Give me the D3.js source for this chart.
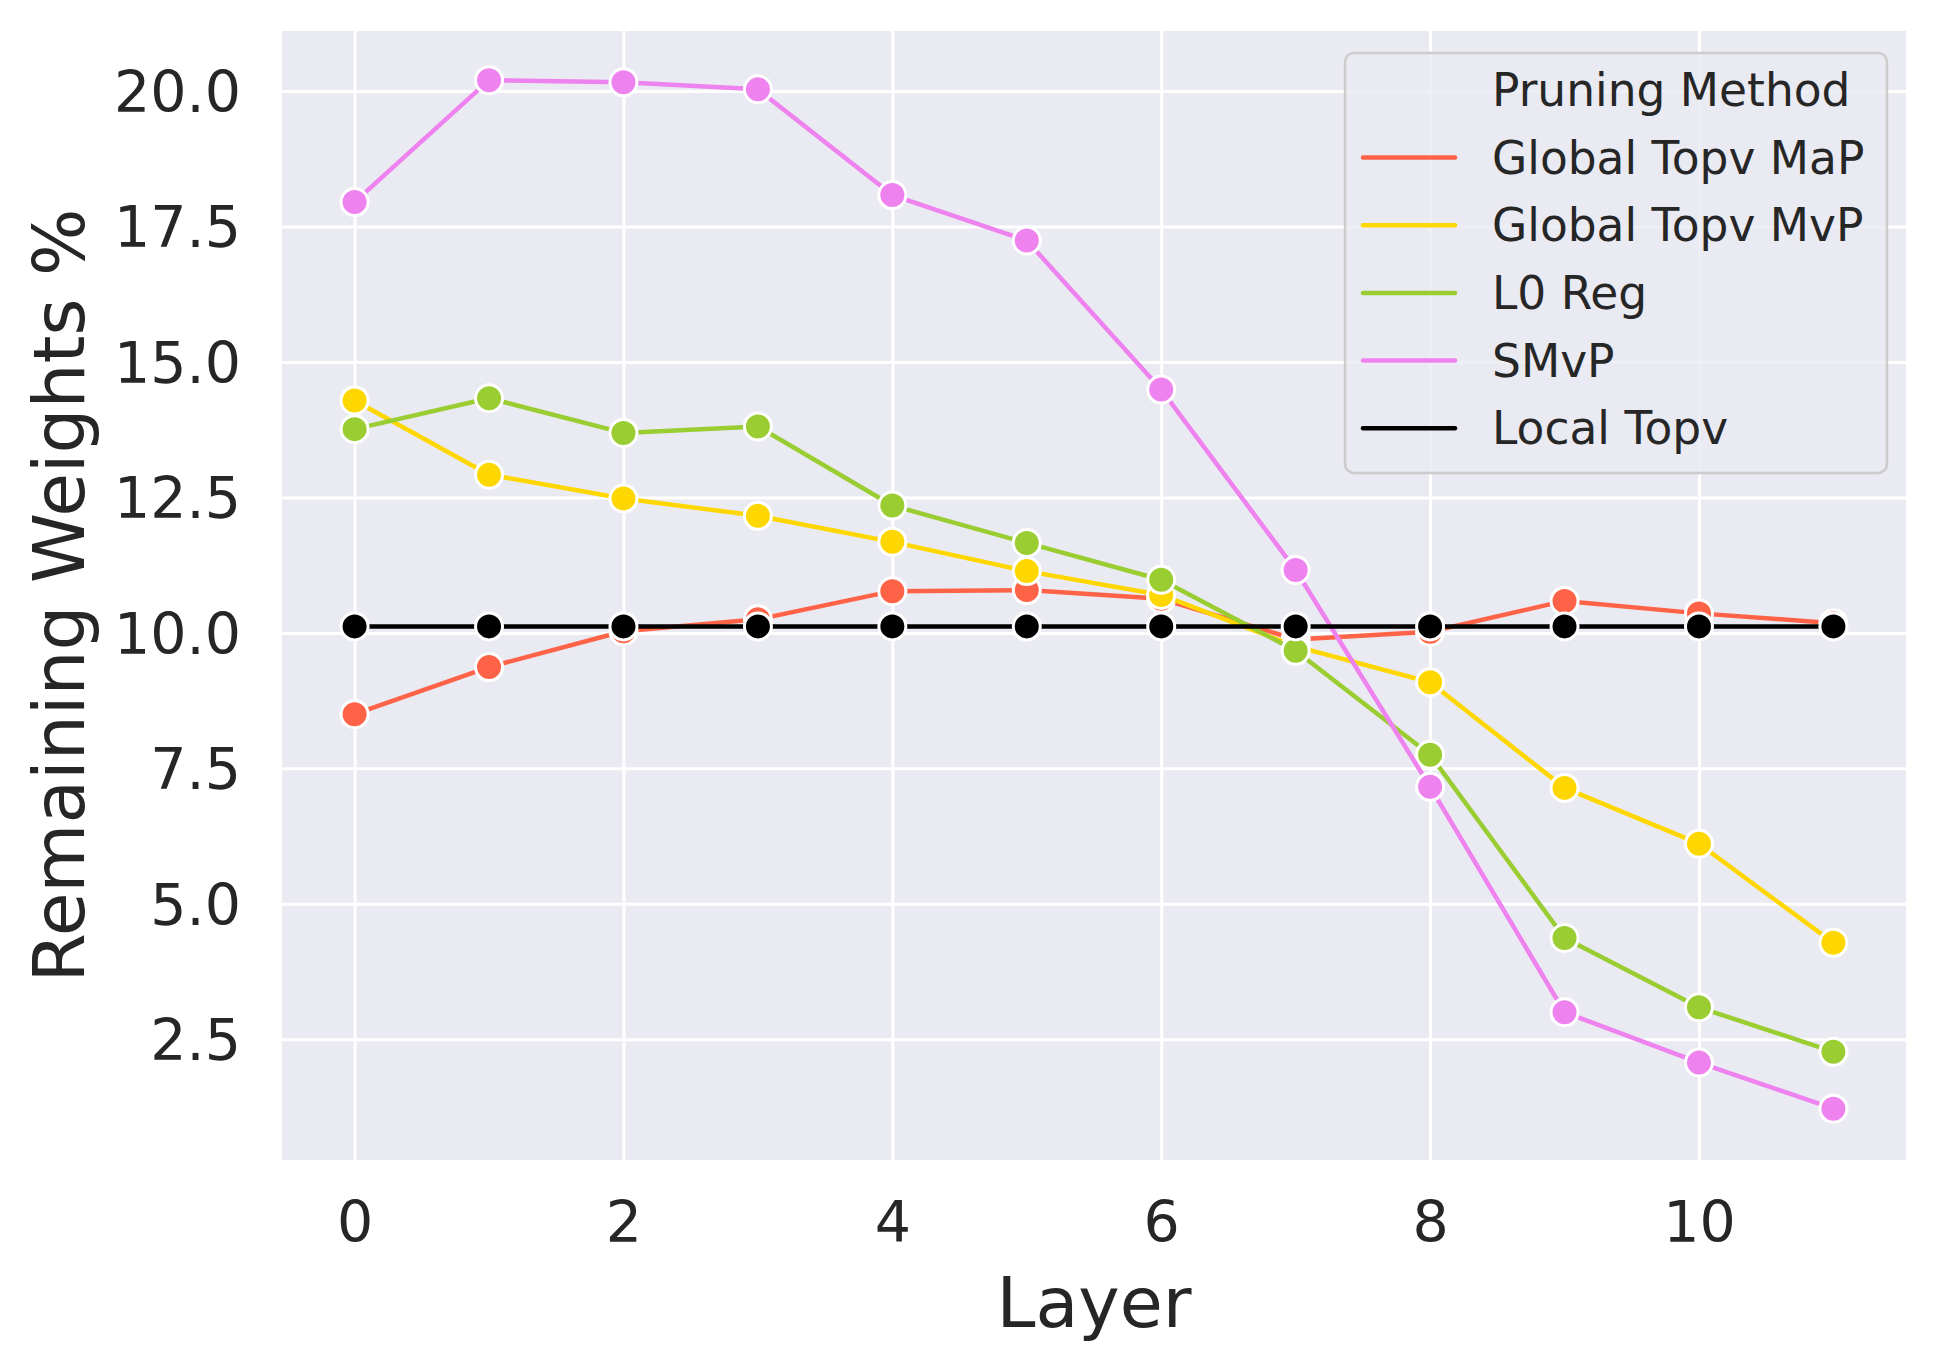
<!DOCTYPE html>
<html>
<head>
<meta charset="utf-8">
<script src="https://cdn.jsdelivr.net/npm/d3@7"></script>
<style>
  body { margin: 0; background: #fff; }
  text { font-family: "DejaVu Sans", sans-serif; fill: #262626; }
</style>
</head>
<body>
<div id="viz"></div>
<script>
// data
var layers = [0, 1, 2, 3, 4, 5, 6, 7, 8, 9, 10, 11];
var globalTopvMaP = [8.50, 9.37, 10.03, 10.25, 10.77, 10.79, 10.63, 9.88, 10.02, 10.59, 10.36, 10.18];
var globalTopvMvP = [14.29, 12.92, 12.48, 12.16, 11.68, 11.14, 10.70, 9.75, 9.09, 7.14, 6.11, 4.28];
var l0Reg = [13.76, 14.33, 13.69, 13.81, 12.35, 11.66, 10.98, 9.67, 7.75, 4.37, 3.09, 2.27];
var smvp = [17.95, 20.20, 20.16, 20.03, 18.08, 17.24, 14.49, 11.16, 7.16, 3.00, 2.07, 1.22];
var localTopv = [10.12, 10.12, 10.12, 10.12, 10.12, 10.12, 10.12, 10.12, 10.12, 10.12, 10.12, 10.12];

var methodNames = ['Global Topv MaP', 'Global Topv MvP', 'L0 Reg', 'SMvP', 'Local Topv'];
var methodColors = ['#ff6347', '#ffd700', '#9acd32', '#ee82ee', '#000000'];
var yTicks = [2.5, 5, 7.5, 10, 12.5, 15, 17.5, 20];
var xTicks = [0, 2, 4, 6, 8, 10];

var seriesList = [globalTopvMaP, globalTopvMvP, l0Reg, smvp, localTopv];

var width = 1937;
var height = 1369;
var plot = {left: 282, right: 1906, top: 31, bottom: 1160};

var svg = d3.select('#viz').append('svg')
  .attr('width', width)
  .attr('height', height);

var xScale = d3.scaleLinear()
  .domain([-0.54, 11.54])
  .range([plot.left, plot.right]);

var yScale = d3.scaleLinear()
  .domain([0.273, 21.107])
  .range([plot.bottom, plot.top]);

// background
svg.append('rect')
  .attr('x', plot.left)
  .attr('y', plot.top)
  .attr('width', plot.right - plot.left)
  .attr('height', plot.bottom - plot.top)
  .attr('fill', '#eaeaf2');

// grid
var xGrid = d3.axisBottom(xScale).tickValues(xTicks)
  .tickSize(-(plot.bottom - plot.top)).tickFormat('');
svg.append('g')
  .attr('transform', 'translate(0,' + plot.bottom + ')')
  .call(xGrid)
  .call(g => g.select('.domain').remove())
  .selectAll('line').attr('stroke', '#fff').attr('stroke-width', 3);

var yGrid = d3.axisLeft(yScale).tickValues(yTicks)
  .tickSize(-(plot.right - plot.left)).tickFormat('');
svg.append('g')
  .attr('transform', 'translate(' + plot.left + ',0)')
  .call(yGrid)
  .call(g => g.select('.domain').remove())
  .selectAll('line').attr('stroke', '#fff').attr('stroke-width', 3);

// tick labels
var xAxis = svg.append('g')
  .attr('transform', 'translate(0,' + plot.bottom + ')')
  .call(d3.axisBottom(xScale).tickValues(xTicks).tickSize(0).tickPadding(0));
xAxis.select('.domain').remove();
xAxis.selectAll('text')
  .attr('y', 82)
  .attr('dy', null)
  .style('font-size', '57px')
  .style('font-family', '"DejaVu Sans", sans-serif')
  .attr('fill', '#262626');

var yAxis = svg.append('g')
  .attr('transform', 'translate(' + plot.left + ',0)')
  .call(d3.axisLeft(yScale).tickValues(yTicks).tickFormat(d3.format('.1f')).tickSize(0).tickPadding(41));
yAxis.select('.domain').remove();
yAxis.selectAll('text')
  .attr('dy', '0.36em')
  .style('font-size', '57px')
  .style('font-family', '"DejaVu Sans", sans-serif')
  .attr('fill', '#262626');

// axis titles
svg.append('text')
  .attr('x', (plot.left + plot.right) / 2)
  .attr('y', 1327)
  .attr('text-anchor', 'middle')
  .style('font-size', '70px')
  .text('Layer');

svg.append('text')
  .attr('transform', 'translate(84,' + ((plot.top + plot.bottom) / 2) + ') rotate(-90)')
  .attr('text-anchor', 'middle')
  .style('font-size', '71px')
  .text('Remaining Weights %');

// lines and markers
var line = d3.line()
  .x(function(d, i) { return xScale(layers[i]); })
  .y(function(d) { return yScale(d); });

seriesList.forEach(function(values, s) {
  var g = svg.append('g').attr('class', 'series');
  g.append('path')
    .datum(values)
    .attr('fill', 'none')
    .attr('stroke', methodColors[s])
    .attr('stroke-width', 4.5)
    .attr('stroke-linejoin', 'round')
    .attr('d', line);
  g.selectAll('circle')
    .data(values)
    .enter().append('circle')
    .attr('cx', function(d, i) { return xScale(layers[i]); })
    .attr('cy', function(d) { return yScale(d); })
    .attr('r', 13.5)
    .attr('fill', methodColors[s])
    .attr('stroke', '#fff')
    .attr('stroke-width', 3);
});

// legend
var legend = svg.append('g');
legend.append('rect')
  .attr('x', 1345)
  .attr('y', 53)
  .attr('width', 542)
  .attr('height', 420)
  .attr('rx', 9)
  .attr('fill', 'rgba(234,234,242,0.8)')
  .attr('stroke', '#cccccc')
  .attr('stroke-width', 2.5);

legend.append('text')
  .attr('x', 1492)
  .attr('y', 106)
  .style('font-size', '45.5px')
  .text('Pruning Method');

methodNames.forEach(function(name, i) {
  var ly = 157.5 + i * 67.7;
  legend.append('line')
    .attr('x1', 1363).attr('x2', 1455)
    .attr('y1', ly).attr('y2', ly)
    .attr('stroke', methodColors[i])
    .attr('stroke-width', 4.5)
    .attr('stroke-linecap', 'round');
  legend.append('text')
    .attr('x', 1492)
    .attr('y', ly + 16)
    .style('font-size', '45.5px')
    .text(name);
});
</script>
</body>
</html>
